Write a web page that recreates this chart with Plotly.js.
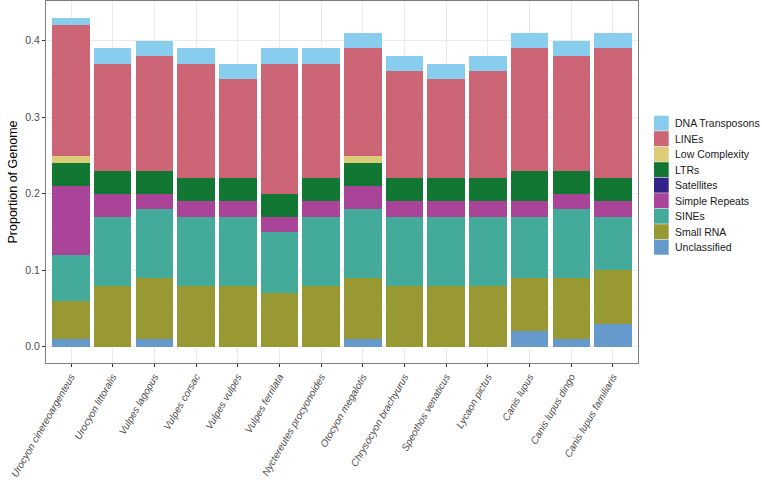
<!DOCTYPE html>
<html>
<head>
<meta charset="utf-8">
<script src="https://cdn.plot.ly/plotly-3.0.1.min.js"></script>
<style>
  body { margin: 0; background: #fff; }
  #chart { width: 762px; height: 481px; }
</style>
</head>
<body>
<div id="chart"></div>
<script>
var species = ["Urocyon cinereoargenteus", "Urocyon littoralis", "Vulpes lagopus", "Vulpes corsac",
  "Vulpes vulpes", "Vulpes ferrilata", "Nyctereutes procyonoides", "Otocyon megalotis",
  "Chrysocyon brachyurus", "Speothos venaticus", "Lycaon pictus", "Canis lupus",
  "Canis lupus dingo", "Canis lupus familiaris"]

// stacked bottom to top
var unclassified   = [0.01, 0,    0.01, 0,    0,    0,    0,    0.01, 0,    0,    0,    0.02, 0.01, 0.03]
var smallRNA       = [0.05, 0.08, 0.08, 0.08, 0.08, 0.07, 0.08, 0.08, 0.08, 0.08, 0.08, 0.07, 0.08, 0.07]
var sines          = [0.06, 0.09, 0.09, 0.09, 0.09, 0.08, 0.09, 0.09, 0.09, 0.09, 0.09, 0.08, 0.09, 0.07]
var simpleRepeats  = [0.09, 0.03, 0.02, 0.02, 0.02, 0.02, 0.02, 0.03, 0.02, 0.02, 0.02, 0.02, 0.02, 0.02]
var satellites     = [0,    0,    0,    0,    0,    0,    0,    0,    0,    0,    0,    0,    0,    0]
var ltrs           = [0.03, 0.03, 0.03, 0.03, 0.03, 0.03, 0.03, 0.03, 0.03, 0.03, 0.03, 0.04, 0.03, 0.03]
var lowComplexity  = [0.01, 0,    0,    0,    0,    0,    0,    0.01, 0,    0,    0,    0,    0,    0]
var lines          = [0.17, 0.14, 0.15, 0.15, 0.13, 0.17, 0.15, 0.14, 0.14, 0.13, 0.14, 0.16, 0.15, 0.17]
var dnaTransposons = [0.01, 0.02, 0.02, 0.02, 0.02, 0.02, 0.02, 0.02, 0.02, 0.02, 0.02, 0.02, 0.02, 0.02]

var seriesNames  = ["Unclassified", "Small RNA", "SINEs", "Simple Repeats", "Satellites",
  "LTRs", "Low Complexity", "LINEs", "DNA Transposons"]
var seriesValues = [unclassified, smallRNA, sines, simpleRepeats, satellites,
  ltrs, lowComplexity, lines, dnaTransposons]
var seriesColors = ["#6699CC", "#999933", "#44AA99", "#AA4499", "#332288",
  "#117733", "#DDCC77", "#CC6677", "#88CCEE"]

var font = "Liberation Sans, Arial, sans-serif"
var data = []
for (var i = 0; i < seriesNames.length; i++) {
  data.push({
    type: 'bar',
    name: seriesNames[i],
    x: species,
    y: seriesValues[i],
    marker: {color: seriesColors[i], line: {width: 0}},
    showlegend: false
  })
}

// hand-made legend, ggplot style (top entry = last stacked series)
var shapes = []
var annotations = []
var plotL = 46, plotW = 592, plotB = 363, plotH = 362
var keyX0 = 654, keyX1 = 668.7, textX = 673, keyTop = 115.7, pitch = 15.5
for (var k = 0; k < seriesNames.length; k++) {
  var idx = seriesNames.length - 1 - k
  var keyY = keyTop + k * pitch
  shapes.push({
    type: 'rect', xref: 'paper', yref: 'paper',
    x0: (keyX0 - plotL) / plotW, x1: (keyX1 - plotL) / plotW,
    y0: (plotB - keyY) / plotH, y1: (plotB - keyY - 15) / plotH,
    fillcolor: seriesColors[idx], line: {width: 0}
  })
  annotations.push({
    xref: 'paper', yref: 'paper', showarrow: false,
    x: (textX - plotL) / plotW, y: (plotB - keyY - 7.5) / plotH,
    xanchor: 'left', yanchor: 'middle',
    text: seriesNames[idx],
    font: {family: font, size: 10.5, color: '#1a1a1a'}
  })
}

var layout = {
  width: 762,
  height: 481,
  barmode: 'stack',
  bargap: 0.1,
  paper_bgcolor: '#fff',
  plot_bgcolor: '#fff',
  margin: {l: 46, r: 124, t: 1, b: 118},
  showlegend: false,
  font: {family: font},
  xaxis: {
    type: 'category',
    range: [-0.6, 13.6],
    showgrid: true,
    gridcolor: '#ebebeb',
    gridwidth: 1,
    showline: true,
    mirror: true,
    linecolor: '#7f7f7f',
    linewidth: 1,
    ticks: 'outside',
    ticklen: 3,
    tickcolor: '#333',
    tickangle: -60,
    tickfont: {family: font, size: 10, color: '#4d4d4d', style: 'italic'},
    zeroline: false
  },
  yaxis: {
    range: [-0.0213, 0.452],
    tickvals: [0, 0.1, 0.2, 0.3, 0.4],
    tickformat: '.1f',
    showgrid: true,
    gridcolor: '#ebebeb',
    minor: {tickvals: [0.05, 0.15, 0.25, 0.35], showgrid: true, gridcolor: '#f4f4f4', ticks: ''},
    showline: true,
    mirror: true,
    linecolor: '#7f7f7f',
    linewidth: 1,
    ticks: 'outside',
    ticklen: 3,
    tickcolor: '#333',
    tickfont: {family: font, size: 10.5, color: '#4d4d4d'},
    zeroline: false,
    title: {text: 'Proportion of Genome', font: {family: font, size: 12.5, color: '#000'}, standoff: 4}
  },
  shapes: shapes,
  annotations: annotations
}

Plotly.newPlot('chart', data, layout, {displayModeBar: false, staticPlot: true})
</script>
</body>
</html>
